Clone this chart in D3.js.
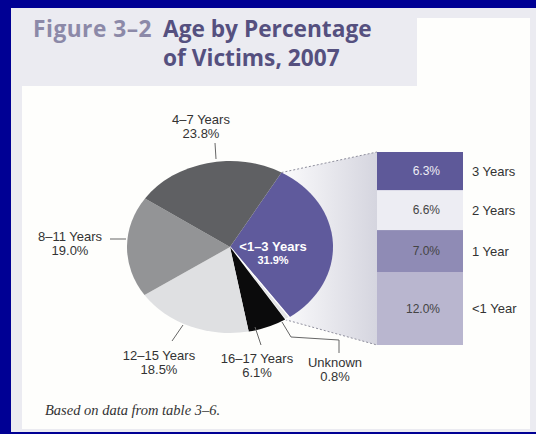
<!DOCTYPE html>
<html><head><meta charset="utf-8">
<script src="https://cdn.jsdelivr.net/npm/d3@7"></script>
<style>html,body{margin:0;padding:0;background:#000094;overflow:hidden}</style>
</head><body>
<script>
// ---- data ----
const pieCategories = ["<1–3 Years","Unknown","16–17 Years","12–15 Years","8–11 Years","4–7 Years"];
const pieValues     = [31.9, 0.8, 6.1, 18.5, 19.0, 23.8];
const pieColors     = ["#5f5a9c","#e4e4e6","#0b0b0c","#dfe0e2","#939496","#5f6063"];
const barCategories = ["<1 Year","1 Year","2 Years","3 Years"];
const barValues     = [12.0, 7.0, 6.6, 6.3];
const barColors     = ["#b9b6cf","#8f8bb5","#ededf3","#5e5999"];
const barTextColors = ["#444","#444","#444","#eeeef5"];

const W=536,H=434;
const svg=d3.select("body").append("svg").attr("width",W).attr("height",H);
svg.append("rect").attr("width",W).attr("height",H).attr("fill","#000094");
svg.append("rect").attr("x",11).attr("y",8).attr("width",W-11).attr("height",424).attr("fill","#ebebf1");
svg.append("path").attr("d","M22,86 L417,86 L417,18 L530,18 L530,429 L22,429 Z").attr("fill","#fefefc");

// title
const tt=svg.append("g").attr("font-family","'Open Sans',sans-serif").attr("font-weight","bold").attr("font-size",22.7);
tt.append("text").attr("x",33).attr("y",37).attr("fill","#8c89a8").attr("letter-spacing",0.5).text("Figure 3–2");
tt.append("text").attr("x",163).attr("y",37).attr("fill","#55507f").text("Age by Percentage");
tt.append("text").attr("x",163).attr("y",66).attr("fill","#55507f").text("of Victims, 2007");

// pie geometry
const cx=230,cy=247,R=103,ry=86;
const sy=ry/R;
const a0=30*Math.PI/180;
const pie=d3.pie().sort(null).startAngle(a0).endAngle(a0+2*Math.PI);
const arcs=pie(pieValues);
const arc=d3.arc().innerRadius(0).outerRadius(R);
const pt=a=>[cx+R*Math.sin(a), cy-ry*Math.cos(a)];

// bars scale
const bx0=377,bx1=463;
const y=d3.scaleLinear().domain([0,d3.sum(barValues)]).range([345,152]);
const cum=d3.cumsum(barValues);

// gradient connector
const defs=svg.append("defs");
const g=defs.append("linearGradient").attr("id","conn").attr("x1",0).attr("x2",1).attr("y1",0).attr("y2",0);
g.append("stop").attr("offset","0%").attr("stop-color","#fbfbfc");
g.append("stop").attr("offset","100%").attr("stop-color","#d5d5df");
const pTop=pt(arcs[0].startAngle), pBot=pt(arcs[1].endAngle);
svg.append("path").attr("d",`M${pTop} L${bx0},${y(cum[cum.length-1])} L${bx0},${y(0)} L${pBot} Z`)
  .attr("fill","url(#conn)");
svg.append("line").attr("x1",pTop[0]).attr("y1",pTop[1]).attr("x2",bx0).attr("y2",y(cum[cum.length-1]))
  .attr("stroke","#8e8e9c").attr("stroke-dasharray","2,2");
svg.append("line").attr("x1",pBot[0]).attr("y1",pBot[1]).attr("x2",bx0).attr("y2",y(0))
  .attr("stroke","#8e8e9c").attr("stroke-dasharray","2,2");

// pie
const pg=svg.append("g").attr("transform",`translate(${cx},${cy}) scale(1,${sy})`);
pg.selectAll("path").data(arcs).join("path").attr("d",arc)
  .attr("fill",(d,i)=>pieColors[i])
  .attr("stroke",(d,i)=>i===1?"#fff":"none").attr("stroke-width",1.3)
  .attr("vector-effect","non-scaling-stroke");

// bars
const bars=svg.append("g");
barValues.forEach((v,i)=>{
  const lo=i?cum[i-1]:0, hi=cum[i];
  bars.append("rect").attr("x",bx0).attr("width",bx1-bx0).attr("y",y(hi)).attr("height",y(lo)-y(hi)).attr("fill",barColors[i]);
  const my=(y(lo)+y(hi))/2+4;
  bars.append("text").attr("x",440).attr("y",my).attr("text-anchor","end").attr("font-family","'Liberation Sans',Arial,sans-serif")
    .attr("font-size",12).attr("fill",barTextColors[i]).text(v.toFixed(1)+"%");
  bars.append("text").attr("x",472).attr("y",my+0.5).attr("font-family","'Liberation Sans',Arial,sans-serif")
    .attr("font-size",13).attr("fill","#333").text(barCategories[i]);
});

// pie labels
const lab=[
  {i:5,x:201,y:124,line:[[215,143],[216,159]]},
  {i:4,x:70,y:241,line:[[110,239],[126,239]]},
  {i:3,x:159,y:360,line:[[183,325],[172,341]]},
  {i:2,x:257,y:363,line:[[255,327],[261,345]]},
  {i:1,x:335,y:367,line:[[282,322],[291,337],[339,340],[339,353]]}
];
const lg=svg.append("g").attr("font-family","'Liberation Sans',Arial,sans-serif").attr("font-size",13).attr("fill","#333").attr("text-anchor","middle");
lab.forEach(l=>{
  const t=lg.append("text").attr("x",l.x).attr("y",l.y);
  t.append("tspan").attr("x",l.x).text(pieCategories[l.i]);
  t.append("tspan").attr("x",l.x).attr("dy",13.5).text(pieValues[l.i].toFixed(1)+"%");
  svg.append("path").attr("d",d3.line()(l.line)).attr("fill","none").attr("stroke","#666").attr("stroke-width",1);
});
const c0=svg.append("text").attr("font-family","'Liberation Sans',Arial,sans-serif").attr("font-weight","bold").attr("fill","#fff").attr("text-anchor","middle");
c0.append("tspan").attr("x",273).attr("y",251).attr("font-size",13).text(pieCategories[0]);
c0.append("tspan").attr("x",273).attr("y",264).attr("font-size",11).text(pieValues[0].toFixed(1)+"%");

// footnote
svg.append("text").attr("x",45).attr("y",415).attr("font-family","'Liberation Serif',serif").attr("font-style","italic")
  .attr("font-size",14.5).attr("fill","#333").text("Based on data from table 3–6.");
</script>
</body></html>
